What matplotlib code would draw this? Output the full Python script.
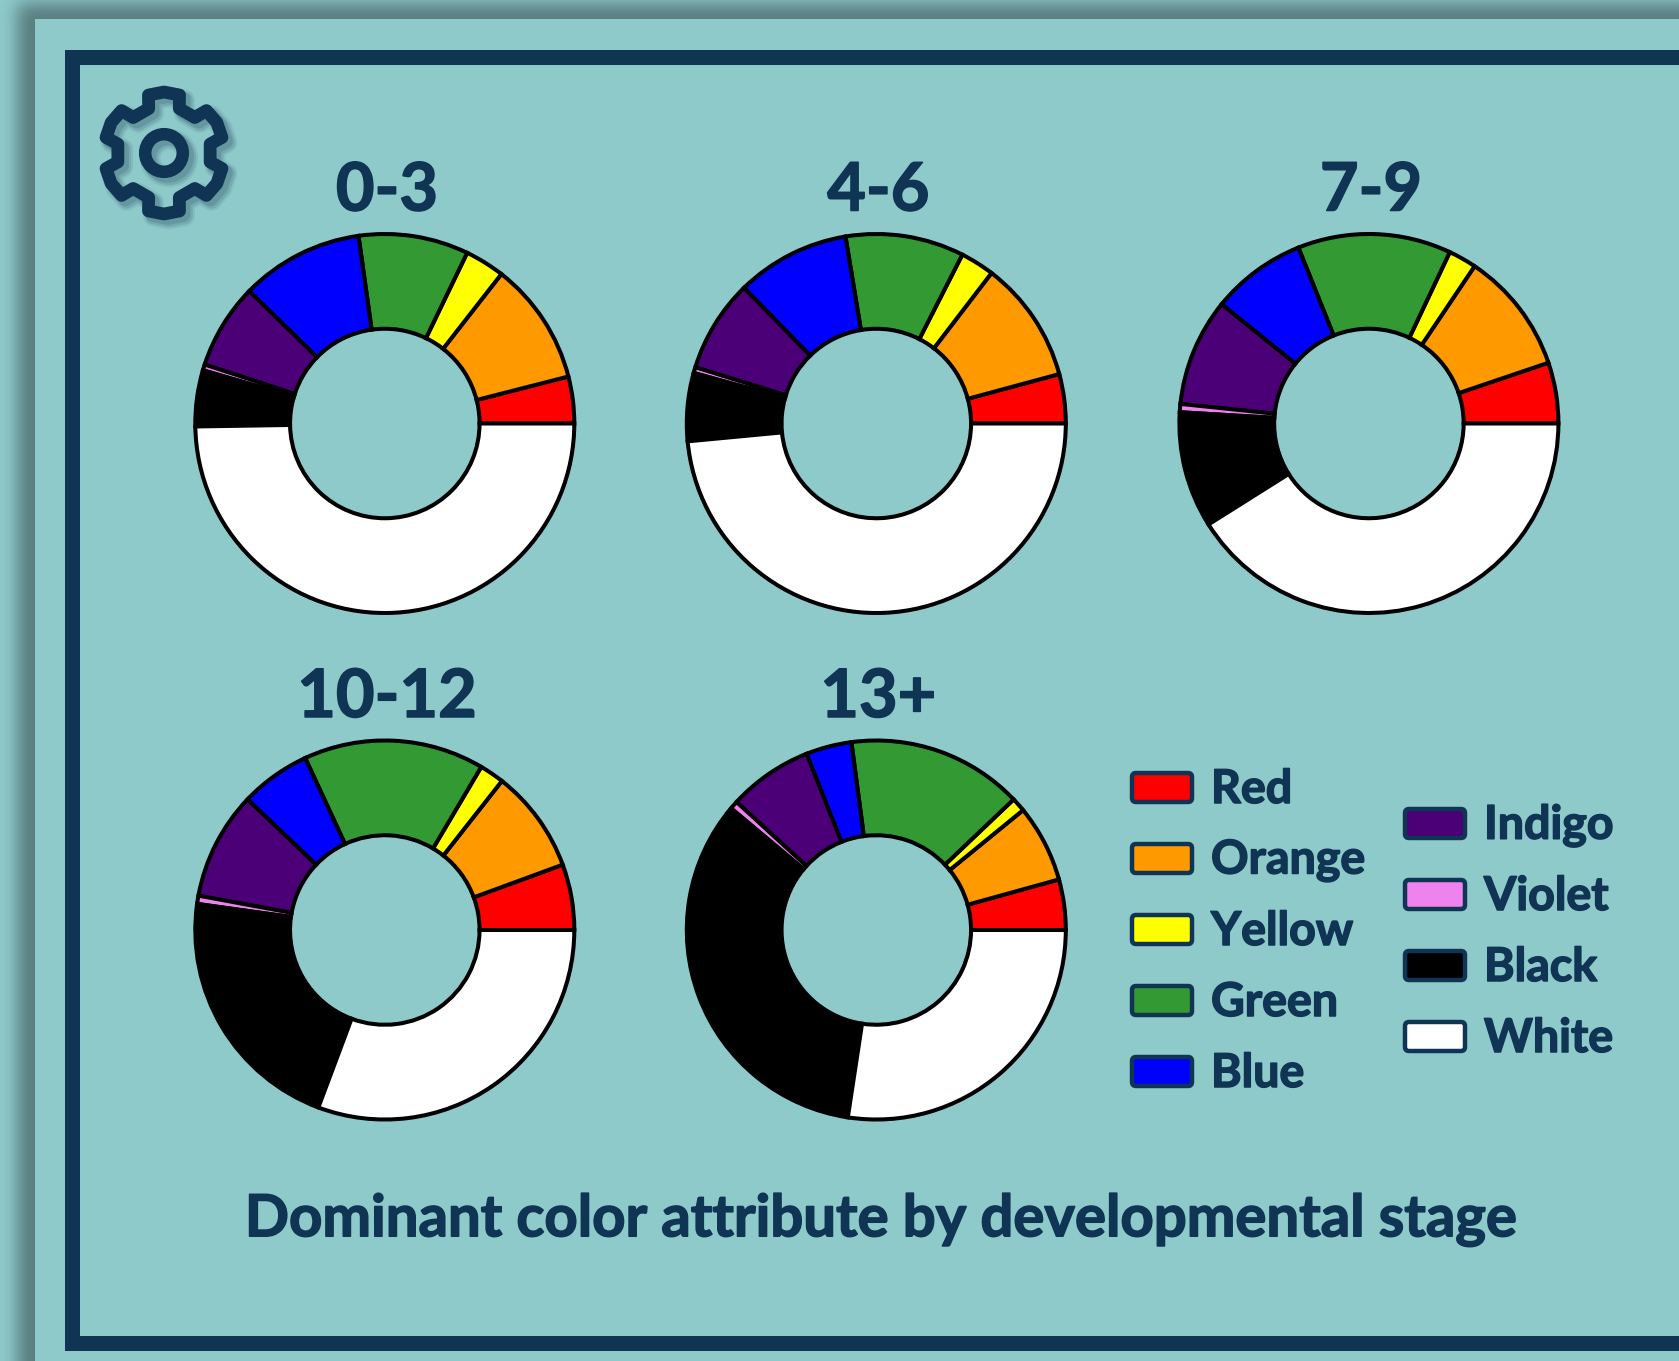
import math
import numpy as np
import matplotlib
matplotlib.use('Agg')
import matplotlib.pyplot as plt
import matplotlib.patheffects as pe
from matplotlib.patches import FancyBboxPatch, Circle, Polygon

W, H = 1679, 1361
NAVY = '#103554'
PANEL = '#8fcacb'

# share of each color per stage, percent
colors = ['Red', 'Orange', 'Yellow', 'Green', 'Blue', 'Indigo', 'Violet', 'Black', 'White']
hexes = ['#ff0000', '#ff9900', '#ffff00', '#339933', '#0000ff', '#4b0078', '#ee82ee', '#000000', '#ffffff']
stages = ['0-3', '4-6', '7-9', '10-12', '13+']
stage_0_3 = [4.0, 10.5, 3.4, 9.4, 10.5, 7.3, 0.5, 4.8, 49.9]
stage_4_6 = [4.2, 10.4, 2.9, 10.1, 9.7, 7.9, 0.5, 5.8, 48.5]
stage_7_9 = [5.2, 10.4, 2.4, 13.1, 8.1, 9.2, 0.7, 9.9, 41.1]
stage_10_12 = [5.6, 8.8, 2.1, 15.4, 6.0, 9.2, 0.7, 21.5, 30.7]
stage_13 = [4.3, 6.6, 1.2, 15.0, 3.9, 7.2, 0.7, 33.7, 27.4]
shares = [stage_0_3, stage_4_6, stage_7_9, stage_10_12, stage_13]
chart_title = 'Dominant color attribute by developmental stage'

plt.rcParams['font.family'] = ['Lato', 'DejaVu Sans']

fig = plt.figure(figsize=(W / 100, H / 100), dpi=100)
bg = fig.add_axes([0, 0, 1, 1])
bg.set_xlim(0, W)
bg.set_ylim(H, 0)
bg.axis('off')

# panel drop shadow down the left and top edges
erf = np.vectorize(math.erf)
xx = 0.5 * (1 + erf((np.arange(W) - 17) / 12))
yy = 0.5 * (1 + erf((np.arange(H) - 3) / 12))
dark = 0.38 * np.outer(yy, xx)
rgb = np.array(matplotlib.colors.to_rgb(PANEL))
img = rgb[None, None, :] * (1 - dark[:, :, None])
bg.imshow(img, extent=(0, W, H, 0), aspect='auto', zorder=0)

bg.fill_between([35, W], 19, H, color=PANEL, lw=0, zorder=1)
bg.fill_between([65, W], 50, 65, color=NAVY, lw=0, zorder=2)
bg.fill_between([65, W], 1336, 1351, color=NAVY, lw=0, zorder=2)
bg.fill_between([65, 80], 50, 1351, color=NAVY, lw=0, zorder=2)

# gear icon
gx, gy = 164, 153
pts = []
for t in range(30, 390, 60):
    for r, d in [(47, -19), (60, -15), (61, 0), (60, 15), (47, 19)]:
        a = math.radians(t + d)
        pts.append((gx + r * math.cos(a), gy - r * math.sin(a)))
for off, lw, al in [(5, 15, 0.08), (5, 12, 0.12), (4, 10, 0.15)]:
    bg.add_patch(Polygon([(x + off, y + off) for x, y in pts], closed=True, fill=False,
                         ec='#0b2a40', lw=lw, alpha=al, joinstyle='round', zorder=3))
    bg.add_patch(Circle((gx + off, gy + off), 18.8, fill=False, ec='#0b2a40', lw=lw, alpha=al, zorder=3))
bg.add_patch(Polygon(pts, closed=True, fill=False, ec=NAVY, lw=9.2, joinstyle='round', zorder=4))
bg.add_patch(Circle((gx, gy), 18.8, fill=False, ec=NAVY, lw=9, zorder=4))

# heavier look for the bold text
heavy = [pe.withStroke(linewidth=1.1, foreground=NAVY)]

# donuts
centers = [(384.8, 423.5), (876.3, 423.5), (1368.9, 423.5), (384.8, 930), (876.3, 930)]
R = 189.5
for stage, vals, (cx, cy) in zip(stages, shares, centers):
    m = R + 5
    ax = fig.add_axes([(cx - m) / W, 1 - (cy + m) / H, 2 * m / W, 2 * m / H])
    ax.pie(vals, colors=hexes, startangle=0, counterclock=True, radius=R / m,
           wedgeprops=dict(width=0.5 * R / m, edgecolor='black', linewidth=2.9))
    ax.set_xlim(-1, 1)
    ax.set_ylim(-1, 1)
    ax.axis('off')
    ax.patch.set_alpha(0)
    bg.text(cx + 2, cy - 232, stage, color=NAVY, fontsize=48, fontweight='bold',
            ha='center', va='center', path_effects=heavy)

# legend
for i, (name, c) in enumerate(zip(colors, hexes)):
    if i < 5:
        lx, ly = 1130, 771 + 71 * i
    else:
        lx, ly = 1403, 807 + 71 * (i - 5)
    bg.add_patch(FancyBboxPatch((lx + 2, ly + 2), 60, 29, boxstyle='round,pad=0,rounding_size=4',
                                fc=c, ec=NAVY, lw=3.2, zorder=4))
    bg.text(lx + 81, ly + 18, name, color=NAVY, fontsize=33.5, fontweight='bold',
            ha='left', va='center', zorder=4, path_effects=heavy)

bg.text(880, 1220, chart_title, color=NAVY, fontsize=41.8, fontweight='bold',
        ha='center', va='center', zorder=4, path_effects=heavy)

fig.savefig('out.png', dpi=100)
